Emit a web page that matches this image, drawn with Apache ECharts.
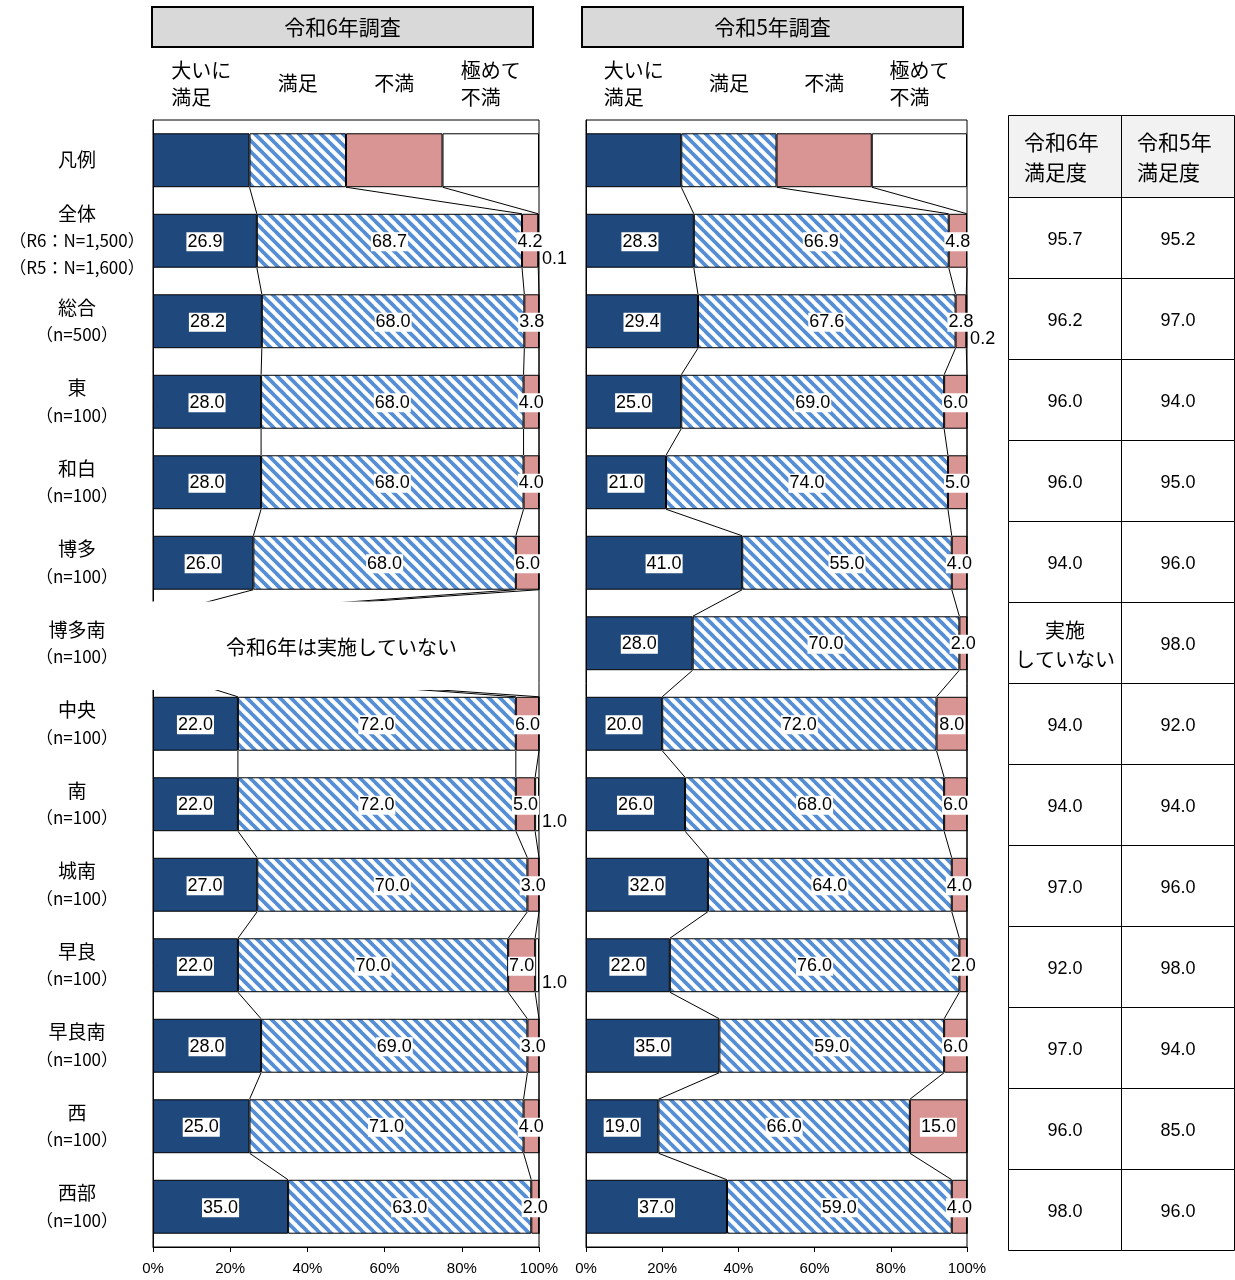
<!DOCTYPE html>
<html lang="ja">
<head>
<meta charset="utf-8">
<title>満足度調査</title>
<script src="https://cdn.jsdelivr.net/npm/echarts@6/dist/echarts.min.js"></script>
<style>
  html, body { margin: 0; padding: 0; background: #fff; }
  #chart { width: 1235px; height: 1280px; }
</style>
</head>
<body>
<div id="chart"></div>
<script>
// ---- data -------------------------------------------------------------
const categories = ['凡例', '全体', '総合', '東', '和白', '博多', '博多南', '中央', '南', '城南', '早良', '早良南', '西', '西部'];
const categoryNotes = ['', '（R6：N=1,500）\n（R5：N=1,600）', '（n=500）', '（n=100）', '（n=100）', '（n=100）', '（n=100）',
  '（n=100）', '（n=100）', '（n=100）', '（n=100）', '（n=100）', '（n=100）', '（n=100）'];
const seriesNames = ['大いに満足', '満足', '不満', '極めて不満'];
const seriesHeaders = ['大いに\n満足　', '満足', '不満', '極めて\n不満　'];
const surveyTitles = ['令和6年調査', '令和5年調査'];

// index 0 is the legend row (four equal parts); null = survey not conducted
const r6VerySatisfied = [25, 26.9, 28.2, 28.0, 28.0, 26.0, null, 22.0, 22.0, 27.0, 22.0, 28.0, 25.0, 35.0];
const r6Satisfied     = [25, 68.7, 68.0, 68.0, 68.0, 68.0, null, 72.0, 72.0, 70.0, 70.0, 69.0, 71.0, 63.0];
const r6Dissatisfied  = [25, 4.2, 3.8, 4.0, 4.0, 6.0, null, 6.0, 5.0, 3.0, 7.0, 3.0, 4.0, 2.0];
const r6VeryDissatisfied = [25, 0.1, 0, 0, 0, 0, null, 0, 1.0, 0, 1.0, 0, 0, 0];

const r5VerySatisfied = [25, 28.3, 29.4, 25.0, 21.0, 41.0, 28.0, 20.0, 26.0, 32.0, 22.0, 35.0, 19.0, 37.0];
const r5Satisfied     = [25, 66.9, 67.6, 69.0, 74.0, 55.0, 70.0, 72.0, 68.0, 64.0, 76.0, 59.0, 66.0, 59.0];
const r5Dissatisfied  = [25, 4.8, 2.8, 6.0, 5.0, 4.0, 2.0, 8.0, 6.0, 4.0, 2.0, 6.0, 15.0, 4.0];
const r5VeryDissatisfied = [25, 0.1, 0.2, 0, 0, 0, 0, 0, 0, 0, 0, 0, 0, 0];

const notConductedNote = '令和6年は実施していない';
const notConductedCell = '実施\nしていない';
const tableHeaders = ['令和6年\n満足度', '令和5年\n満足度'];
const r6SatisfactionRate = [95.7, 96.2, 96.0, 96.0, 94.0, null, 94.0, 94.0, 97.0, 92.0, 97.0, 96.0, 98.0];
const r5SatisfactionRate = [95.2, 97.0, 94.0, 95.0, 96.0, 98.0, 92.0, 94.0, 96.0, 98.0, 94.0, 85.0, 96.0];

// ---- styling ----------------------------------------------------------
const CJK = '"Noto Sans CJK JP", "Noto Sans", sans-serif';
const NUM = '"Liberation Sans", Arial, sans-serif';
const DARK = '#1F497D';
const STRIPE = '#558ED5';
const PINK = '#D99594';
const BAR_FRACTION = 0.67;

function hatchPattern() {
  const s = 11;
  const c = document.createElement('canvas');
  c.width = s; c.height = s;
  const g = c.getContext('2d');
  g.fillStyle = '#fff';
  g.fillRect(0, 0, s, s);
  g.strokeStyle = STRIPE;
  g.lineWidth = 3.8;
  for (const k of [-s, 0, s]) {
    g.beginPath();
    g.moveTo(-1, k - 1);
    g.lineTo(s + 1, s + k + 1);
    g.stroke();
  }
  return c;
}
const segmentColors = [DARK, { image: hatchPattern(), repeat: 'repeat' }, PINK, '#fff'];

function valueLabel(seriesIdx) {
  if (seriesIdx === 3) {
    return {
      show: true, position: 'right', distance: 3, offset: [0, 18],
      color: '#000', fontFamily: NUM, fontSize: 18,
      formatter: p => p.value.toFixed(1)
    };
  }
  return {
    show: true, position: 'inside', offset: [0, 1], color: '#000', fontFamily: NUM, fontSize: 18,
    lineHeight: 19, backgroundColor: '#fff', padding: [0, 1],
    formatter: p => p.value.toFixed(1)
  };
}

function barSeries(gridIdx, values, seriesIdx, stack) {
  const twoLine = seriesHeaders[seriesIdx].indexOf('\n') >= 0;
  return {
    type: 'bar',
    name: seriesNames[seriesIdx],
    xAxisIndex: gridIdx, yAxisIndex: gridIdx,
    stack: stack,
    barWidth: (BAR_FRACTION * 100) + '%',
    itemStyle: { color: segmentColors[seriesIdx], borderColor: '#000', borderWidth: 1 },
    label: valueLabel(seriesIdx),
    data: values.map((v, i) => {
      if (v == null) return null;
      if (i === 0) {
        return {
          value: v,
          label: {
            show: true, position: 'top', distance: twoLine ? 22 : 36, offset: [0, 0],
            formatter: seriesHeaders[seriesIdx], fontFamily: CJK, fontSize: 20,
            lineHeight: 27, color: '#000', backgroundColor: 'transparent', padding: 0
          }
        };
      }
      return { value: v, label: { show: v > 0 } };
    })
  };
}

// series lines joining the stacked boundaries of neighbouring rows
function connectorData(a, b, c) {
  const cum = categories.map((_, i) => {
    const x1 = a[i] || 0, x2 = x1 + (b[i] || 0), x3 = x2 + (c[i] || 0);
    return [x1, x2, x3];
  });
  const out = [];
  for (let i = 0; i < cum.length - 1; i++) {
    for (let j = 0; j < 3; j++) out.push([cum[i][j], i, cum[i + 1][j], i + 1]);
  }
  return out;
}

function connectorSeries(gridIdx, data) {
  return {
    type: 'custom', xAxisIndex: gridIdx, yAxisIndex: gridIdx, z: 1, silent: true,
    encode: { x: [0, 2], y: [1, 3] },
    data: data,
    renderItem: (params, api) => {
      const p0 = api.coord([api.value(0), api.value(1)]);
      const p1 = api.coord([api.value(2), api.value(3)]);
      const half = api.size([0, 1])[1] * BAR_FRACTION / 2;
      return {
        type: 'line',
        shape: { x1: p0[0], y1: p0[1] + half, x2: p1[0], y2: p1[1] - half },
        style: { stroke: '#000', lineWidth: 1 }
      };
    }
  };
}

function categoryLabel(value, idx) {
  const note = categoryNotes[idx];
  let s = '{name|' + value + '}';
  if (note) s += '\n' + note.split('\n').map(t => '{note|' + t + '}').join('\n');
  return s;
}

function valueAxis(gridIdx) {
  return {
    type: 'value', gridIndex: gridIdx, min: 0, max: 100, interval: 20,
    axisLine: { show: true, lineStyle: { color: '#000', width: 1 } },
    axisTick: { show: true, length: 5, lineStyle: { color: '#000' } },
    splitLine: { show: false },
    axisLabel: { formatter: '{value}%', color: '#000', fontFamily: NUM, fontSize: 15, margin: 14 }
  };
}

function categoryAxis(gridIdx, showLabels) {
  return {
    type: 'category', gridIndex: gridIdx, data: categories, inverse: true,
    axisLine: { show: true, lineStyle: { color: '#000', width: 1 } },
    axisTick: { show: false },
    axisLabel: showLabels ? {
      show: true, align: 'center', margin: 76, color: '#000',
      formatter: categoryLabel,
      rich: {
        name: { fontFamily: CJK, fontSize: 19, lineHeight: 27, color: '#000' },
        note: { fontFamily: CJK, fontSize: 17, lineHeight: 27, color: '#000' }
      }
    } : { show: false }
  };
}

const tableBodyData = [];
categories.slice(1).forEach((_, i) => {
  tableBodyData.push([0, i]);
  tableBodyData.push([1, i]);
});

function tableText(dataIndex) {
  const col = dataIndex % 2;
  const row = Math.floor(dataIndex / 2);
  const v = col === 0 ? r6SatisfactionRate[row] : r5SatisfactionRate[row];
  return v == null ? notConductedCell : v.toFixed(1);
}

const option = {
  animation: false,
  backgroundColor: '#fff',
  textStyle: { fontFamily: CJK },
  grid: [
    { left: 153, top: 120, width: 386, height: 1127, show: true, borderColor: '#000', borderWidth: 1, containLabel: false },
    { left: 586, top: 120, width: 381, height: 1127, show: true, borderColor: '#000', borderWidth: 1, containLabel: false },
    { left: 1008.5, top: 115.5, width: 226, height: 82, containLabel: false },
    { left: 1008.5, top: 197.5, width: 226, height: 1053, containLabel: false }
  ],
  xAxis: [
    valueAxis(0),
    valueAxis(1),
    { type: 'category', gridIndex: 2, data: tableHeaders, show: false },
    { type: 'category', gridIndex: 3, data: tableHeaders, show: false }
  ],
  yAxis: [
    categoryAxis(0, true),
    categoryAxis(1, false),
    { type: 'category', gridIndex: 2, data: ['header'], show: false },
    { type: 'category', gridIndex: 3, data: categories.slice(1), inverse: true, show: false }
  ],
  series: [
    connectorSeries(0, connectorData(r6VerySatisfied, r6Satisfied, r6Dissatisfied)),
    barSeries(0, r6VerySatisfied, 0, 'r6'),
    barSeries(0, r6Satisfied, 1, 'r6'),
    barSeries(0, r6Dissatisfied, 2, 'r6'),
    barSeries(0, r6VeryDissatisfied, 3, 'r6'),
    connectorSeries(1, connectorData(r5VerySatisfied, r5Satisfied, r5Dissatisfied)),
    barSeries(1, r5VerySatisfied, 0, 'r5'),
    barSeries(1, r5Satisfied, 1, 'r5'),
    barSeries(1, r5Dissatisfied, 2, 'r5'),
    barSeries(1, r5VeryDissatisfied, 3, 'r5'),
    // row where the 令和6年 survey was not conducted
    {
      type: 'custom', xAxisIndex: 0, yAxisIndex: 0, z: 10, silent: true,
      encode: { x: 0, y: 1 },
      data: r6VerySatisfied.map((v, i) => [0, i]).filter((d, i) => i > 0 && r6VerySatisfied[i] == null),
      renderItem: (params, api) => {
        const idx = api.value(1);
        const left = api.coord([0, idx])[0] - 8;
        const right = api.coord([100, idx])[0] - 1;
        const cy = api.coord([0, idx])[1];
        const band = api.size([0, 1])[1];
        return {
          type: 'group',
          children: [
            { type: 'rect', shape: { x: left, y: cy - band * 0.52, width: right - left, height: band * 1.1 },
              style: { fill: '#fff' } },
            { type: 'text', style: { text: notConductedNote, x: (left + right) / 2, y: cy + 4,
              align: 'center', verticalAlign: 'middle', fontFamily: CJK, fontSize: 20, fill: '#000' } }
          ]
        };
      }
    },
    // satisfaction table header
    {
      type: 'custom', xAxisIndex: 2, yAxisIndex: 2, silent: true,
      encode: { x: 0, y: 1 },
      data: [[0, 0], [1, 0]],
      renderItem: (params, api) => {
        const c = api.coord([api.value(0), api.value(1)]);
        const sz = api.size([1, 1]);
        return {
          type: 'group',
          children: [
            { type: 'rect', shape: { x: c[0] - sz[0] / 2, y: c[1] - sz[1] / 2, width: sz[0], height: sz[1] },
              style: { fill: '#f2f2f2', stroke: '#000', lineWidth: 1 } },
            { type: 'text', style: { text: tableHeaders[params.dataIndex], x: c[0] - 41, y: c[1] + 1,
              align: 'left', verticalAlign: 'middle', fontFamily: CJK, fontSize: 21, lineHeight: 30, fill: '#000' } }
          ]
        };
      }
    },
    // satisfaction table body
    {
      type: 'custom', xAxisIndex: 3, yAxisIndex: 3, silent: true,
      encode: { x: 0, y: 1 },
      data: tableBodyData,
      renderItem: (params, api) => {
        const c = api.coord([api.value(0), api.value(1)]);
        const sz = api.size([1, 1]);
        const text = tableText(params.dataIndex);
        const isNote = text.indexOf('\n') >= 0;
        return {
          type: 'group',
          children: [
            { type: 'rect', shape: { x: c[0] - sz[0] / 2, y: c[1] - sz[1] / 2, width: sz[0], height: sz[1] },
              style: { fill: '#fff', stroke: '#000', lineWidth: 1 } },
            { type: 'text', style: { text: text, x: c[0], y: c[1] + 2,
              align: 'center', verticalAlign: 'middle',
              fontFamily: isNote ? CJK : NUM, fontSize: isNote ? 20 : 18, lineHeight: 29, fill: '#000' } }
          ]
        };
      }
    }
  ],
  graphic: surveyTitles.map((t, i) => ({
    type: 'group',
    left: i === 0 ? 151 : 581,
    top: 6,
    children: [
      { type: 'rect', shape: { x: 0, y: 0, width: 381, height: 40 },
        style: { fill: '#d9d9d9', stroke: '#000', lineWidth: 2 } },
      { type: 'text', x: 190.5, y: 20, style: { text: t, align: 'center', verticalAlign: 'middle',
        fontFamily: CJK, fontSize: 21, fill: '#000' } }
    ]
  }))
};

const chart = echarts.init(document.getElementById('chart'), null, { renderer: 'canvas' });
chart.setOption(option);
</script>
</body>
</html>
